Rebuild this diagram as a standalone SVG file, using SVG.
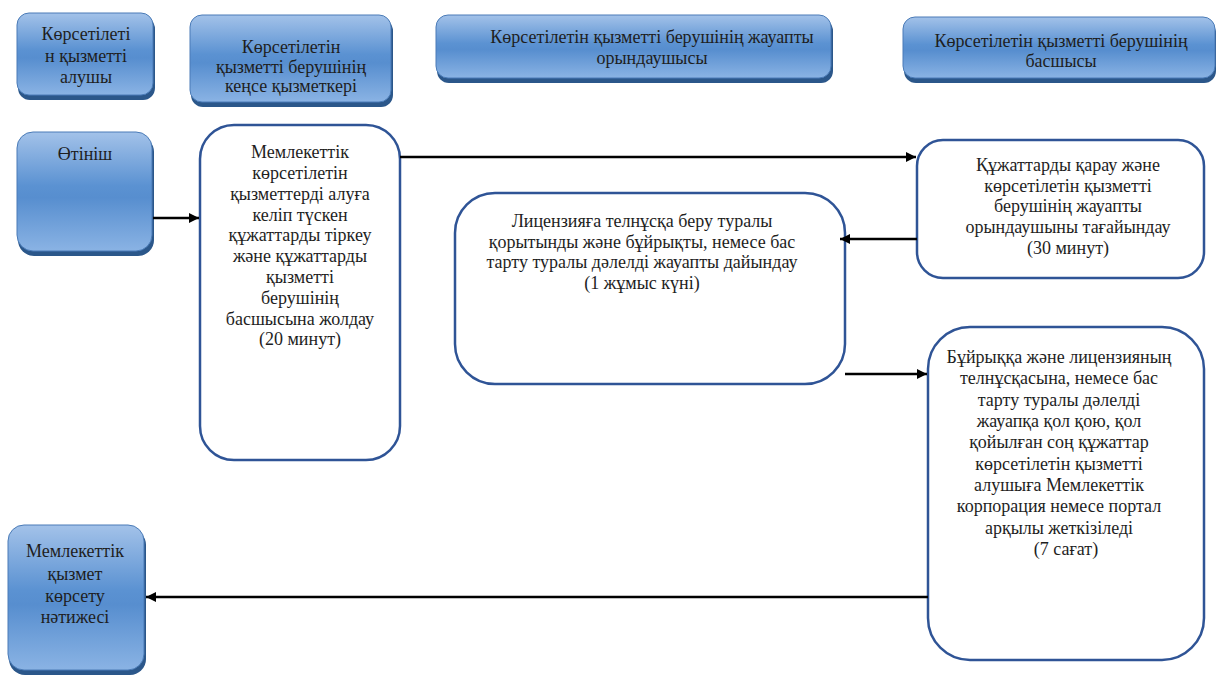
<svg xmlns="http://www.w3.org/2000/svg" width="1216" height="677" viewBox="0 0 1216 677">
<defs>
<linearGradient id="blue" x1="0" y1="0" x2="0" y2="1">
<stop offset="0" stop-color="#a3c2e9"/>
<stop offset="0.45" stop-color="#5b92d2"/>
<stop offset="0.55" stop-color="#578ecf"/>
<stop offset="1" stop-color="#8ab3e4"/>
</linearGradient>
<marker id="arr" viewBox="0 0 10 10" refX="10" refY="5" markerWidth="4" markerHeight="4" orient="auto" markerUnits="strokeWidth">
<path d="M0,0 L10,5 L0,10 z" fill="#000"/>
</marker>
</defs>
<style>
text{font-family:"Liberation Serif","Times New Roman","DejaVu Serif","Noto Serif",serif;font-size:18px;fill:#1e1e1e;text-anchor:middle}
.sh{fill:#2b578a}
.bl{fill:url(#blue);stroke:#4a7bb7;stroke-width:1}
.wb{fill:#fff;stroke:#2f5496;stroke-width:2.5}
.c{fill:none;stroke:#000;stroke-width:2.5;marker-end:url(#arr)}
</style>
<rect width="1216" height="677" fill="#fff"/>

<g id="h1">
<rect class="sh" x="18" y="17" width="137" height="83" rx="12"/>
<rect class="bl" x="17" y="13" width="136" height="82" rx="12"/>
<text font-family="Liberation Serif, serif" x="86" y="40">Көрсетілеті</text>
<text x="86" y="62">н қызметті</text>
<text x="86" y="83">алушы</text>
</g>
<g id="h2">
<rect class="sh" x="191" y="19" width="202" height="88" rx="12"/>
<rect class="bl" x="190" y="15" width="201" height="87" rx="12"/>
<text x="291" y="53">Көрсетілетін</text>
<text x="291" y="73">қызметті берушінің</text>
<text x="291" y="92">кеңсе қызметкері</text>
</g>
<g id="h3">
<rect class="sh" x="437" y="19" width="396" height="64" rx="12"/>
<rect class="bl" x="436" y="15" width="395" height="63" rx="12"/>
<text x="652" y="43">Көрсетілетін қызметті  берушінің жауапты</text>
<text x="652" y="64">орындаушысы</text>
</g>
<g id="h4">
<rect class="sh" x="904" y="21" width="312" height="62" rx="12"/>
<rect class="bl" x="903" y="17" width="312" height="61" rx="12"/>
<text x="1061" y="47">Көрсетілетін қызметті  берушінің</text>
<text x="1061" y="67">басшысы</text>
</g>

<g id="n_otinish">
<rect class="sh" x="18" y="136" width="136" height="120" rx="16"/>
<rect class="bl" x="17" y="132" width="135" height="119" rx="16"/>
<text x="85" y="160">Өтініш</text>
</g>

<g id="n_reg">
<rect class="wb" x="200" y="125" width="200" height="335" rx="34"/>
<text x="300" y="158">Мемлекеттік</text>
<text x="300" y="179">көрсетілетін</text>
<text x="300" y="200">қызметтерді алуға</text>
<text x="300" y="221">келіп түскен</text>
<text x="300" y="241">құжаттарды тіркеу</text>
<text x="300" y="262">және құжаттарды</text>
<text x="300" y="283">қызметті</text>
<text x="300" y="304">берушінің</text>
<text x="300" y="325">басшысына жолдау</text>
<text x="300" y="345">(20 минут)</text>
</g>

<g id="n_review">
<rect class="wb" x="917" y="140" width="287" height="138" rx="26"/>
<text x="1068" y="171">Құжаттарды қарау және</text>
<text x="1068" y="192">көрсетілетін қызметті</text>
<text x="1068" y="212">берушінің жауапты</text>
<text x="1068" y="233">орындаушыны тағайындау</text>
<text x="1068" y="254">(30 минут)</text>
</g>

<g id="n_prepare">
<rect class="wb" x="455" y="193" width="390" height="191" rx="40"/>
<text x="642" y="227">Лицензияға телнұсқа беру туралы</text>
<text x="642" y="248">қорытынды және бұйрықты, немесе бас</text>
<text x="642" y="268">тарту туралы дәлелді жауапты дайындау</text>
<text x="642" y="289">(1 жұмыс күні)</text>
</g>

<g id="n_sign">
<rect class="wb" x="928" y="327" width="276" height="333" rx="42"/>
<text x="1059" y="363">Бұйрыққа және лицензияның</text>
<text x="1059" y="384">телнұсқасына, немесе бас</text>
<text x="1059" y="406">тарту туралы дәлелді</text>
<text x="1059" y="427">жауапқа қол қою, қол</text>
<text x="1059" y="448">қойылған соң құжаттар</text>
<text x="1059" y="470">көрсетілетін қызметті</text>
<text x="1059" y="491">алушыға Мемлекеттік</text>
<text x="1059" y="512">корпорация немесе портал</text>
<text x="1059" y="534">арқылы жеткізіледі</text>
<text x="1066" y="555">(7 сағат)</text>
</g>

<g id="n_result">
<rect class="sh" x="9" y="529" width="137" height="146" rx="16"/>
<rect class="bl" x="8" y="525" width="136" height="145" rx="16"/>
<text x="75" y="557">Мемлекеттік</text>
<text x="75" y="580">қызмет</text>
<text x="75" y="602">көрсету</text>
<text x="75" y="623">нәтижесі</text>
</g>

<g id="connectors">
<line class="c" x1="153" y1="218" x2="199" y2="218"/>
<line class="c" x1="400" y1="157" x2="916" y2="157"/>
<line class="c" x1="917" y1="239" x2="840" y2="239"/>
<line class="c" x1="845" y1="374" x2="927" y2="374"/>
<line class="c" x1="928" y1="597" x2="146" y2="597"/>
</g>
</svg>
